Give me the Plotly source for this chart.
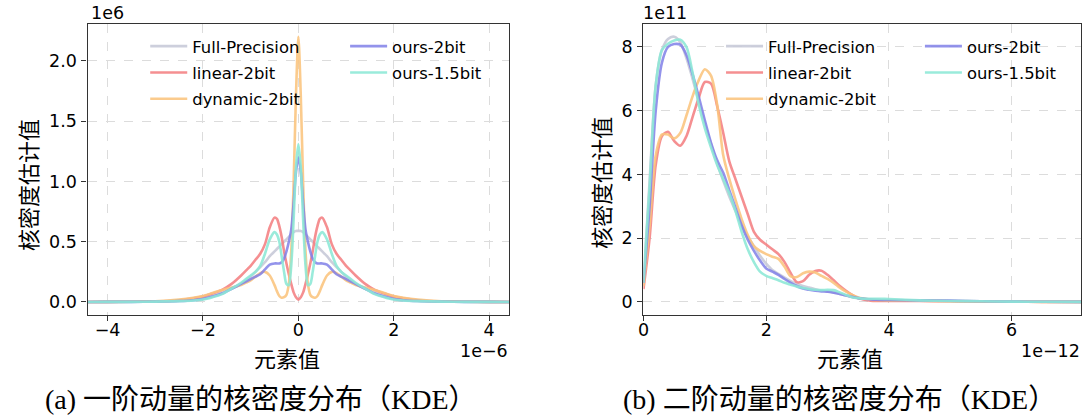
import plotly.graph_objects as go

W, H = 1086, 419

# ---------------- data: panel (a) first-order moment (x in 1e-6, y in 1e6)
xa = [-4.42, -4.0, -3.5, -3.0, -2.5, -2.2, -2.0, -1.8, -1.6, -1.4, -1.2, -1.1, -1.0, -0.9, -0.8, -0.7,
      -0.6, -0.5, -0.45, -0.4, -0.35, -0.3, -0.25, -0.2, -0.15, -0.1, -0.05, 0.0,
      0.05, 0.1, 0.15, 0.2, 0.25, 0.3, 0.35, 0.4, 0.45, 0.5, 0.6, 0.7, 0.8, 0.9, 1.0, 1.1, 1.2,
      1.4, 1.6, 1.8, 2.0, 2.2, 2.5, 3.0, 3.5, 4.0, 4.42]
a_full = [0, .001, .002, .004, .01, .02, .03, .05, .08, .11, .15, .18, .21, .25, .29, .33,
          .38, .42, .44, .46, .48, .50, .52, .54, .56, .58, .59, .59,
          .59, .58, .56, .54, .52, .50, .48, .46, .44, .42, .38, .33, .29, .25, .21, .18, .15,
          .11, .08, .05, .03, .02, .01, .004, .002, .001, 0]
a_linear = [0, .001, .002, .005, .015, .03, .045, .07, .10, .15, .22, .26, .30, .35, .40, .48,
            .62, .70, .69, .63, .54, .42, .32, .23, .15, .08, .04, .02,
            .04, .08, .15, .23, .32, .42, .54, .63, .69, .70, .62, .48, .40, .35, .30, .26, .22,
            .15, .10, .07, .045, .03, .015, .005, .002, .001, 0]
a_dynamic = [0, .001, .002, .006, .02, .035, .05, .075, .10, .12, .14, .16, .18, .21, .24, .25,
             .22, .14, .09, .05, .035, .04, .06, .15, .42, .98, 1.72, 2.2,
             1.72, .98, .42, .15, .06, .04, .035, .05, .09, .14, .22, .25, .24, .21, .18, .16, .14,
             .12, .10, .075, .05, .035, .02, .006, .002, .001, 0]
a_ours2 = [0, .001, .001, .003, .008, .015, .025, .045, .07, .11, .15, .17, .19, .21, .23, .27,
           .31, .32, .32, .32, .33, .36, .42, .50, .60, .82, 1.08, 1.2,
           1.08, .82, .60, .50, .42, .36, .33, .32, .32, .32, .31, .27, .23, .21, .19, .17, .15,
           .11, .07, .045, .025, .015, .008, .003, .001, .001, 0]
a_ours15 = [0, .001, .001, .003, .007, .012, .02, .04, .065, .11, .16, .19, .22, .25, .30, .40,
            .52, .58, .56, .50, .38, .25, .15, .14, .30, .68, 1.12, 1.31,
            1.12, .68, .30, .14, .15, .25, .38, .50, .56, .58, .52, .40, .30, .25, .22, .19, .16,
            .11, .065, .04, .02, .012, .007, .003, .001, .001, 0]

# ---------------- data: panel (b) second-order moment (x in 1e-12, y in 1e11)
xb = [0.0, 0.1, 0.2, 0.3, 0.4, 0.5, 0.6, 0.7, 0.8, 0.9, 1.0, 1.1, 1.2, 1.3, 1.4, 1.5, 1.6, 1.7, 1.8, 1.9,
      2.0, 2.1, 2.2, 2.3, 2.4, 2.5, 2.6, 2.7, 2.8, 2.9, 3.0, 3.1, 3.2, 3.3, 3.4, 3.5, 3.6, 3.7, 3.8,
      4.0, 4.5, 5.0, 5.5, 6.0, 6.5, 7.13]
b_full = [0.6, 3.8, 6.8, 7.9, 8.25, 8.32, 8.15, 7.65, 7.0, 6.3, 5.6, 4.95, 4.35, 3.8, 3.3, 2.85, 2.4, 2.05, 1.75, 1.45,
          1.2, 1.0, 0.88, 0.76, 0.65, 0.56, 0.5, 0.45, 0.4, 0.36, 0.33, 0.3, 0.25, 0.2, 0.15, 0.12, 0.09, 0.07, 0.06,
          0.05, 0.04, 0.03, 0.02, 0.01, 0.005, 0.003]
b_linear = [0.4, 2.0, 4.3, 5.2, 5.34, 5.05, 4.9, 5.2, 5.8, 6.4, 6.9, 6.85, 6.15, 5.3, 4.4, 3.85, 3.3, 2.75, 2.2, 1.95,
            1.8, 1.65, 1.5, 1.25, 0.9, 0.62, 0.65, 0.85, 0.97, 0.98, 0.85, 0.68, 0.5, 0.35, 0.22, 0.12, 0.07, 0.04, 0.03,
            0.03, 0.03, 0.02, 0.01, 0.005, 0.003, 0.002]
b_dynamic = [0.5, 2.4, 4.6, 5.25, 5.25, 5.13, 5.3, 5.85, 6.45, 6.95, 7.3, 7.1, 6.2, 4.6, 3.85, 3.2, 2.6, 2.1, 1.75, 1.6,
             1.5, 1.42, 1.35, 1.1, 0.8, 0.78, 0.9, 0.95, 0.92, 0.82, 0.72, 0.6, 0.45, 0.32, 0.22, 0.14, 0.1, 0.07, 0.06,
             0.05, 0.04, 0.02, 0.01, 0.005, 0.003, 0.002]
b_ours2 = [0.6, 3.0, 6.0, 7.5, 8.0, 8.09, 8.07, 7.75, 7.15, 6.45, 5.7, 5.0, 4.45, 4.05, 3.5, 2.95, 2.4, 1.95, 1.6, 1.3,
           1.05, 0.95, 0.85, 0.72, 0.6, 0.5, 0.42, 0.38, 0.35, 0.33, 0.32, 0.29, 0.25, 0.2, 0.16, 0.12, 0.1, 0.08, 0.07,
           0.06, 0.05, 0.04, 0.02, 0.01, 0.005, 0.003]
b_ours15 = [0.6, 3.6, 6.8, 7.9, 8.1, 8.2, 8.23, 8.0, 7.2, 6.2, 5.45, 4.85, 4.3, 3.85, 3.4, 2.85, 2.2, 1.65, 1.25, 0.95,
            0.82, 0.75, 0.68, 0.6, 0.54, 0.48, 0.44, 0.4, 0.38, 0.37, 0.38, 0.37, 0.3, 0.22, 0.15, 0.12, 0.1, 0.1, 0.1,
            0.09, 0.05, 0.03, 0.02, 0.01, 0.005, 0.003]

names = ["Full-Precision", "linear-2bit", "dynamic-2bit", "ours-2bit", "ours-1.5bit"]
colors = ["rgba(200,202,216,0.9)", "rgba(244,128,130,0.88)", "rgba(251,196,125,0.88)",
          "rgba(128,128,232,0.85)", "rgba(140,232,214,0.88)"]

a_tick_x = [-4, -2, 0, 2, 4]
a_tick_y = [0.0, 0.5, 1.0, 1.5, 2.0]
b_tick_x = [0, 2, 4, 6]
b_tick_y = [0, 2, 4, 6, 8]

fig = go.Figure()
ys_a = [a_full, a_linear, a_dynamic, a_ours2, a_ours15]
ys_b = [b_full, b_linear, b_dynamic, b_ours2, b_ours15]
leg_a = ["legend", "legend", "legend", "legend2", "legend2"]
leg_b = ["legend3", "legend3", "legend3", "legend4", "legend4"]
for i in range(5):
    fig.add_trace(go.Scatter(x=xa, y=ys_a[i], mode="lines", name=names[i], legendgroup="a%d" % i,
                             line=dict(color=colors[i], width=2.6, shape="spline", smoothing=0.8),
                             xaxis="x", yaxis="y", legend=leg_a[i]))
for i in range(5):
    fig.add_trace(go.Scatter(x=xb, y=ys_b[i], mode="lines", name=names[i], legendgroup="b%d" % i,
                             line=dict(color=colors[i], width=2.6, shape="spline", smoothing=0.8),
                             xaxis="x2", yaxis="y2", legend=leg_b[i]))

def px(x):
    return x / W

def py(y):
    return 1 - y / H

tickfont = dict(family="DejaVu Sans", size=17.5, color="#000")
common = dict(showline=True, linecolor="#333", linewidth=1.4, mirror=True, ticks="outside",
              ticklen=5, tickwidth=1, tickcolor="#333", showgrid=True, gridcolor="#dcdcdc",
              griddash="dash", gridwidth=0.8, zeroline=False, tickfont=tickfont)

fig.update_layout(
    width=W, height=H, margin=dict(l=0, r=0, t=0, b=0),
    paper_bgcolor="white", plot_bgcolor="white",
    xaxis=dict(domain=[px(82), px(506)], range=[-4.42, 4.42], tickvals=a_tick_x, anchor="y",
               ticklabelstandoff=-6, **common),
    yaxis=dict(domain=[py(315), py(24)], range=[-0.108, 2.307], tickvals=a_tick_y, tickformat=".1f",
               anchor="x", ticklabelstandoff=1, **common),
    xaxis2=dict(domain=[px(641), px(1081)], range=[0, 7.13], tickvals=b_tick_x, anchor="y2",
                ticklabelstandoff=-6, **common),
    yaxis2=dict(domain=[py(315), py(24)], range=[-0.41, 8.72], tickvals=b_tick_y, anchor="x2",
                ticklabelstandoff=1, **common),
    showlegend=True,
)

legfont = dict(family="DejaVu Sans", size=16.4, color="#000")
def leg(x, y):
    return dict(x=px(x), y=py(y), xanchor="left", yanchor="top", bgcolor="rgba(0,0,0,0)",
                font=legfont, orientation="v", itemwidth=37, tracegroupgap=2)

fig.update_layout(legend=leg(140, 29), legend2=leg(341, 29), legend3=leg(719, 29), legend4=leg(919, 29))

cjk = "Noto Sans CJK SC"
def note(text, x, y, font, angle=0, xa="center", ya="middle"):
    return dict(text=text, x=px(x), y=py(y), xanchor=xa, yanchor=ya, showarrow=False,
                xref="paper", yref="paper", textangle=angle, font=font)

labfont = dict(family=cjk, size=22, color="#000")
ann = [
    note("元素值", 283, 357, labfont),
    note("元素值", 849, 357, labfont),
    note("核密度估计值", 21, 185, labfont, angle=-90),
    note("核密度估计值", 597, 183, labfont, angle=-90),
    note("1e6", 83, 13, tickfont, xa="left"),
    note("1e−6", 507, 351, tickfont, xa="right"),
    note("1e11", 639, 13, tickfont, xa="left"),
    note("1e−12", 1082, 351, tickfont, xa="right"),
]
capfont = dict(family="Liberation Serif, Noto Sans CJK SC", size=28, color="#000")
ann.append(note("(a) 一阶动量的核密度分布（KDE）", 256, 399, capfont))
ann.append(note("(b) 二阶动量的核密度分布（KDE）", 838, 399, capfont))
fig.update_layout(annotations=ann)

fig.write_html("out.html")
